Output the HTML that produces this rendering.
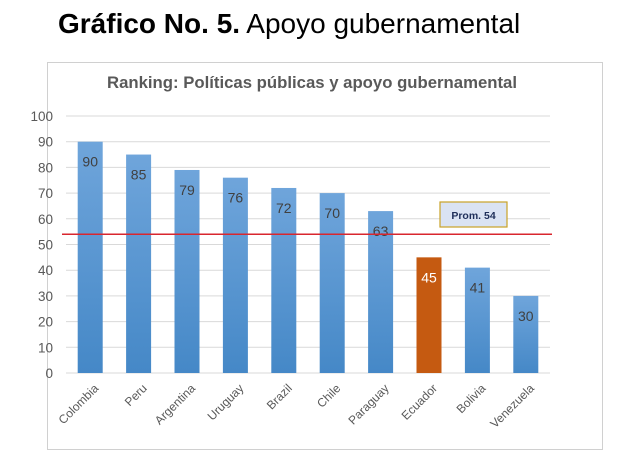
<!DOCTYPE html>
<html><head><meta charset="utf-8"><style>
body{margin:0;background:#fff;width:620px;height:471px;overflow:hidden;font-family:"Liberation Sans",sans-serif}
#hdr{position:absolute;left:58px;top:8px;font-size:28px;color:#000;white-space:nowrap}
#frame{position:absolute;left:47px;top:62px;width:556px;height:388px;border:1px solid #d0d0d0;box-sizing:border-box}
</style></head><body>
<div id="hdr"><b>Gráfico No. 5.</b> Apoyo gubernamental</div>
<div id="frame"></div>
<svg id="chart" width="620" height="471" style="position:absolute;left:0;top:0">
<defs><linearGradient id="bg" x1="0" y1="0" x2="0" y2="1"><stop offset="0" stop-color="#6fa5db"/><stop offset="1" stop-color="#4588c7"/></linearGradient></defs>
<text x="312" y="88" text-anchor="middle" font-size="17" font-weight="bold" fill="#595959" textLength="410" lengthAdjust="spacingAndGlyphs">Ranking: Políticas públicas y apoyo gubernamental</text>
</svg>
<script>
const categories=["Colombia","Peru","Argentina","Uruguay","Brazil","Chile","Paraguay","Ecuador","Bolivia","Venezuela"];
const values=[90,85,79,76,72,70,63,45,41,30];
const highlight=["Ecuador"];
const yTicks=[0,10,20,30,40,50,60,70,80,90,100];
const average=[54];
const svg=document.getElementById('chart');const NS='http://www.w3.org/2000/svg';
const x0=66,x1=550,y0=373,y1=116;
const band=(x1-x0)/categories.length;
const yS=v=>y0-(v/100)*(y0-y1);
const xC=i=>x0+band*(i+0.5);
function mk(t,a){const e=document.createElementNS(NS,t);for(const k in a)e.setAttribute(k,a[k]);svg.appendChild(e);return e;}
yTicks.forEach(v=>{
 const l=mk('line',{x1:x0,x2:x1,y1:yS(v),y2:yS(v),stroke:'#d9d9d9','stroke-width':1});
 
 
 const t=mk('text',{x:53,y:yS(v)+5,'text-anchor':'end','font-size':13.5,fill:'#595959'});t.textContent=v;
 
 
});
categories.forEach((c,i)=>{
 const v=values[i],hi=highlight.includes(c);
 const b=mk('rect',{x:xC(i)-12.5,y:yS(v),width:25,height:yS(0)-yS(v),fill:hi?'#c55a11':'url(#bg)'});
 
 
 const t=mk('text',{x:xC(i),y:yS(v)+25,'text-anchor':'middle','font-size':14,fill:hi?'#fff':'#404040'});t.textContent=v;
 
 
 const xl=mk('text',{x:xC(i)+9,y:389,'text-anchor':'end','font-size':12,fill:'#595959',transform:`rotate(-45 ${xC(i)+9} 389)`});xl.textContent=c;
 
 
});
const al=mk('line',{x1:62,x2:552,y1:yS(average[0]),y2:yS(average[0]),stroke:'#d9262e','stroke-width':1.5});


const bx=mk('rect',{x:440,y:202,width:67,height:25,fill:'#dae3f3',stroke:'#c9a227','stroke-width':1.2});


const bt=mk('text',{x:473.5,y:219,'text-anchor':'middle','font-size':10.5,'font-weight':'bold',fill:'#1f2f5a'});bt.textContent='Prom. '+average[0];


</script>
</body></html>
